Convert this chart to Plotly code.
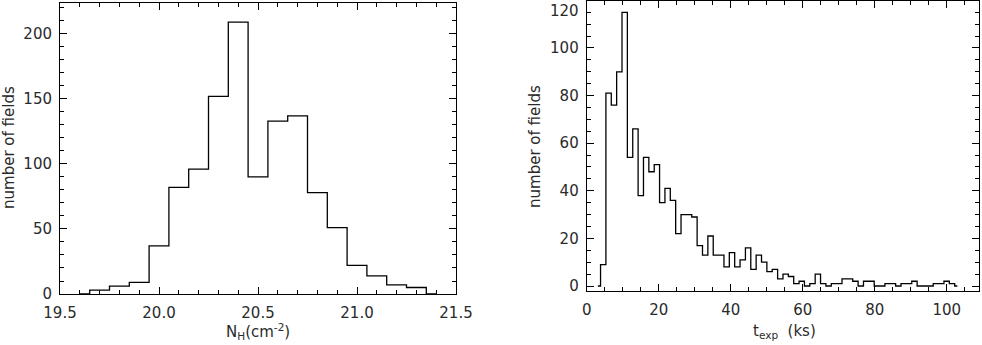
"""Two step histograms: N_H column density and exposure time per field."""

import plotly.graph_objects as go

# -- Data --------------------------------------------------------------------

# left panel: log N_H bin centres (0.1 dex bins) and counts
nh_centers = [19.6, 19.7, 19.8, 19.9, 20.0, 20.1, 20.2, 20.3, 20.4, 20.5,
              20.6, 20.7, 20.8, 20.9, 21.0, 21.1, 21.2, 21.3, 21.4]
nh_counts = [0, 3, 6, 9, 37, 82, 96, 152, 209, 90,
             133, 137, 78, 51, 22, 14, 7, 5, 0]

# right panel: exposure time bin centres (ks) and counts
texp_centers = [3.10, 4.59, 6.08, 7.57, 9.06, 10.55, 12.04, 13.53, 15.02, 16.51,
                18.00, 19.49, 20.98, 22.47, 23.96, 25.45, 26.94, 28.43, 29.92, 31.41,
                32.90, 34.39, 35.88, 37.37, 38.86, 40.35, 41.84, 43.33, 44.82, 46.31,
                47.80, 49.29, 50.78, 52.27, 53.76, 55.25, 56.74, 58.23, 59.72, 61.21,
                62.70, 64.19, 65.68, 67.17, 68.66, 70.15, 71.64, 73.13, 74.62, 76.11,
                77.60, 79.09, 80.58, 82.07, 83.56, 85.05, 86.54, 88.03, 89.52, 91.01,
                92.50, 93.99, 95.48, 96.97, 98.46, 99.95, 101.44, 102.93]
texp_counts = [0, 9, 81, 76, 90, 115, 54, 66, 38, 54,
               48, 51, 35, 41, 36, 22, 30, 30, 29, 17,
               13, 21, 13, 13, 8, 14, 8, 11, 16, 7,
               13, 10, 6, 7, 3, 5, 4, 1, 2, 0,
               1, 5, 1, 0, 1, 1, 3, 3, 2, 0,
               2, 2, 0, 0, 1, 1, 0, 1, 1, 2,
               0, 0, 0, 1, 1, 2, 1, 0]

# top label of the right y axis sits on the frame edge, drawn separately
texp_top_label = "120"

# -- Figure ------------------------------------------------------------------

W, H = 982, 345
FONT = dict(family="DejaVu Sans, Liberation Sans, sans-serif", size=15, color="#2a2a2a")


def _fx(px):
    return px / W


def _fy(py):
    return 1 - py / H


_AXIS = dict(
    showline=True, linecolor="black", linewidth=1, mirror="allticks",
    ticks="inside", ticklen=7, tickwidth=1, tickcolor="black",
    showgrid=False, zeroline=False, tickfont=FONT, automargin=False,
)
_XAXIS = dict(_AXIS, ticklabelstandoff=5)
_YAXIS = dict(_AXIS, ticklabelstandoff=4)

fig = go.Figure()
fig.add_trace(go.Scatter(
    x=nh_centers, y=nh_counts, mode="lines", line_shape="hvh",
    line=dict(color="black", width=1.3), xaxis="x", yaxis="y",
))
fig.add_trace(go.Scatter(
    x=texp_centers, y=texp_counts, mode="lines", line_shape="hvh",
    line=dict(color="black", width=1.3), xaxis="x2", yaxis="y2",
))

fig.update_layout(
    width=W, height=H,
    margin=dict(l=0, r=0, t=0, b=0),
    paper_bgcolor="white", plot_bgcolor="white",
    showlegend=False, font=FONT,
    xaxis=dict(
        _XAXIS, domain=[_fx(60), _fx(456)], anchor="y",
        range=[19.5, 21.5], dtick=0.5, tickformat=".1f",
        minor=dict(ticks="inside", ticklen=4, dtick=0.1, tickcolor="black"),
    ),
    yaxis=dict(
        _YAXIS, domain=[_fy(294), _fy(2.7)], anchor="x",
        range=[0, 224], dtick=50,
        minor=dict(ticks="inside", ticklen=4, dtick=10, tickcolor="black"),
    ),
    xaxis2=dict(
        _XAXIS, domain=[_fx(586.7), _fx(978.5)], anchor="y2",
        range=[0, 108.8], dtick=20,
        minor=dict(ticks="inside", ticklen=4, dtick=5, tickcolor="black"),
    ),
    yaxis2=dict(
        _YAXIS, domain=[_fy(291), _fy(0.5)], anchor="x2",
        range=[-2.1, 119.95], dtick=20,
        minor=dict(ticks="inside", ticklen=4, dtick=5, tickcolor="black"),
    ),
    annotations=[
        dict(text="number of fields", x=_fx(9), y=_fy(148), xref="paper", yref="paper",
             xanchor="center", yanchor="middle",
             textangle=-90, showarrow=False, font=FONT),
        dict(text="number of fields", x=_fx(535), y=_fy(147), xref="paper", yref="paper",
             xanchor="center", yanchor="middle",
             textangle=-90, showarrow=False, font=FONT),
        dict(text=texp_top_label, x=_fx(581), y=1, xref="paper", yref="paper",
             xanchor="right", yanchor="top", showarrow=False, font=FONT),
        dict(text="N<sub>H</sub>(cm<sup>-2</sup>)", x=_fx(258), y=_fy(331),
             xref="paper", yref="paper", xanchor="center", yanchor="middle",
             showarrow=False, font=FONT),
        dict(text="t<sub>exp</sub>  (ks)", x=_fx(784), y=_fy(331),
             xref="paper", yref="paper", xanchor="center", yanchor="middle",
             showarrow=False, font=FONT),
    ],
)

# the page body has a default 8px margin; drop it so the figure sits at the corner
fig.write_html(
    "out.html",
    config={"displayModeBar": False},
    post_script="document.body.style.margin = '0';",
)
